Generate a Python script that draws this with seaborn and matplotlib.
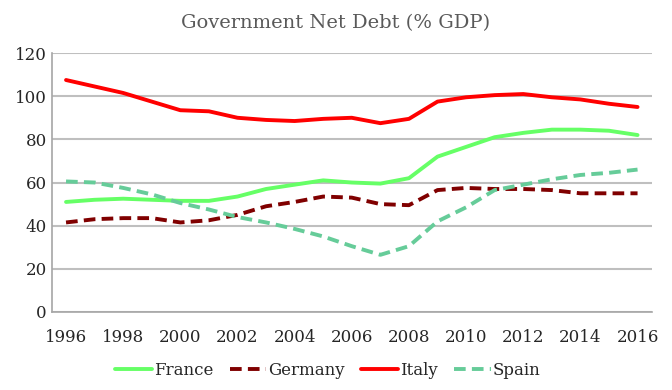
import pandas as pd
import seaborn as sns
import matplotlib.pyplot as plt
import numpy as np

years = list(range(1996, 2017))
france = [51, 52, 52.5, 52, 51.5, 51.5, 53.5, 57, 59, 61, 60, 59.5, 62, 72, 76.5, 81, 83, 84.5, 84.5, 84, 82]
germany = [41.5, 43, 43.5, 43.5, 41.5, 42.5, 45, 49, 51, 53.5, 53, 50, 49.5, 56.5, 57.5, 57, 57, 56.5, 55, 55, 55]
italy = [107.5, 104.5, 101.5, 97.5, 93.5, 93, 90, 89, 88.5, 89.5, 90, 87.5, 89.5, 97.5, 99.5, 100.5, 101, 99.5, 98.5, 96.5, 95]
spain = [60.5, 60, 57.5, 54.5, 50.5, 47.5, 44, 41.5, 38.5, 35, 30.5, 26.5, 30.5, 42, 48.5, 56.5, 59, 61.5, 63.5, 64.5, 66]
countries = ["France", "Germany", "Italy", "Spain"]

df = pd.DataFrame({"year": years, "France": france, "Germany": germany,
                   "Italy": italy, "Spain": spain})
df = df.melt(id_vars="year", var_name="country", value_name="debt")

sns.set_style("white")
plt.rcParams["font.family"] = ["DejaVu Serif"]

colors = {"France": "#66FF66", "Germany": "#800000", "Italy": "#FF0000", "Spain": "#66CC99"}
dashes = {"France": "", "Germany": (3, 1.6), "Italy": "", "Spain": (3, 1.6)}

fig = plt.figure(figsize=(6.72, 3.9), dpi=100)
ax = fig.add_axes([0.077, 0.2, 0.893, 0.664])

sns.lineplot(data=df, x="year", y="debt", hue="country", style="country",
             hue_order=countries, style_order=countries,
             palette=colors, dashes=dashes, linewidth=2.8, ax=ax)

ax.set_xlim(1995.5, 2016.5)
ax.set_ylim(0, 120)
ax.set_yticks(range(0, 121, 20))
ax.set_xticks(range(1996, 2017, 2))
ax.set_xticks(np.arange(1995.5, 2017, 1), minor=True)
ax.tick_params(axis="x", which="major", length=0, pad=12, labelsize=12)
ax.tick_params(axis="x", which="minor", length=5, color="#A6A6A6", width=1, direction="out")
ax.tick_params(axis="y", length=0, labelsize=12)
ax.yaxis.grid(True, color="#BFBFBF", linewidth=1.5)
ax.set_xlabel("")
ax.set_ylabel("")
for s in ["top", "right"]:
    ax.spines[s].set_visible(False)
for s in ["left", "bottom"]:
    ax.spines[s].set_color("#A6A6A6")
    ax.spines[s].set_linewidth(1.2)

fig.suptitle("Government Net Debt (% GDP)", y=0.965, fontsize=14, color="#595959")

ax.legend(loc="upper center", bbox_to_anchor=(0.46, -0.135), ncol=4, frameon=False,
          fontsize=12, handlelength=2.2, handletextpad=0.1, columnspacing=1.0)

plt.savefig("out.png", dpi=100)
